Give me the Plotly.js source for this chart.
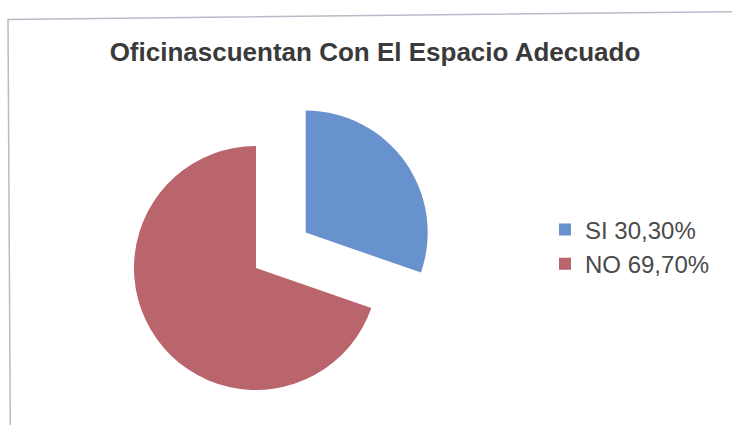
<!DOCTYPE html>
<html>
<head>
<meta charset="utf-8">
<script src="https://cdn.plot.ly/plotly-3.0.1.min.js"></script>
<style>
  html, body { margin: 0; padding: 0; background: #ffffff; }
  #wrap { width: 732px; height: 425px; overflow: hidden; position: relative; }
  #chart { width: 732px; height: 460px; }
</style>
</head>
<body>
<div id="wrap"><div id="chart"></div></div>
<script>
// Data
const categories = ['SI', 'NO'];
const percentValues = [30.30, 69.70];
const titleText = 'Oficinascuentan Con El Espacio Adecuado';

// Legend labels built from the data (Spanish decimal comma)
const legendLabels = categories.map((c, i) =>
  c + ' ' + percentValues[i].toFixed(2).replace('.', ',') + '%');

const W = 732, H = 460;
const px = (x) => x / W;
const py = (y) => 1 - y / H;

const trace = {
  type: 'pie',
  labels: legendLabels,
  values: percentValues,
  sort: false,
  direction: 'clockwise',
  rotation: 0,
  pull: [0.5, 0],
  textinfo: 'none',
  hoverinfo: 'label',
  marker: {
    colors: ['#6892cd', '#b9656b'],
    line: { width: 0 }
  },
  domain: { x: [px(73), px(439)], y: [py(451), py(85)] }
};

const layout = {
  width: W,
  height: H,
  margin: { l: 0, r: 0, t: 0, b: 0 },
  paper_bgcolor: '#ffffff',
  font: { family: 'Liberation Sans, Arial, sans-serif', color: '#444444' },
  title: {
    text: titleText,
    font: { family: 'Liberation Sans, Arial, sans-serif', size: 26, weight: 'bold', color: '#3a3a3a' },
    x: px(375), xref: 'paper', xanchor: 'center',
    y: py(52), yref: 'container', yanchor: 'middle'
  },
  showlegend: true,
  legend: {
    x: px(545), xanchor: 'left',
    y: py(247), yanchor: 'middle',
    font: { family: 'Liberation Sans, Arial, sans-serif', size: 24, color: '#4a4a4a' },
    bgcolor: 'rgba(0,0,0,0)'
  },
  shapes: [{
    type: 'path',
    xref: 'paper', yref: 'paper',
    path: 'M ' + px(10.5) + ',' + py(470) + ' L ' + px(8) + ',' + py(19.5) + ' L ' + px(745) + ',' + py(11.5),
    line: { color: '#b7bbc7', width: 1.5 }
  }]
};

Plotly.newPlot('chart', [trace], layout, { displayModeBar: false, staticPlot: true });
</script>
</body>
</html>
